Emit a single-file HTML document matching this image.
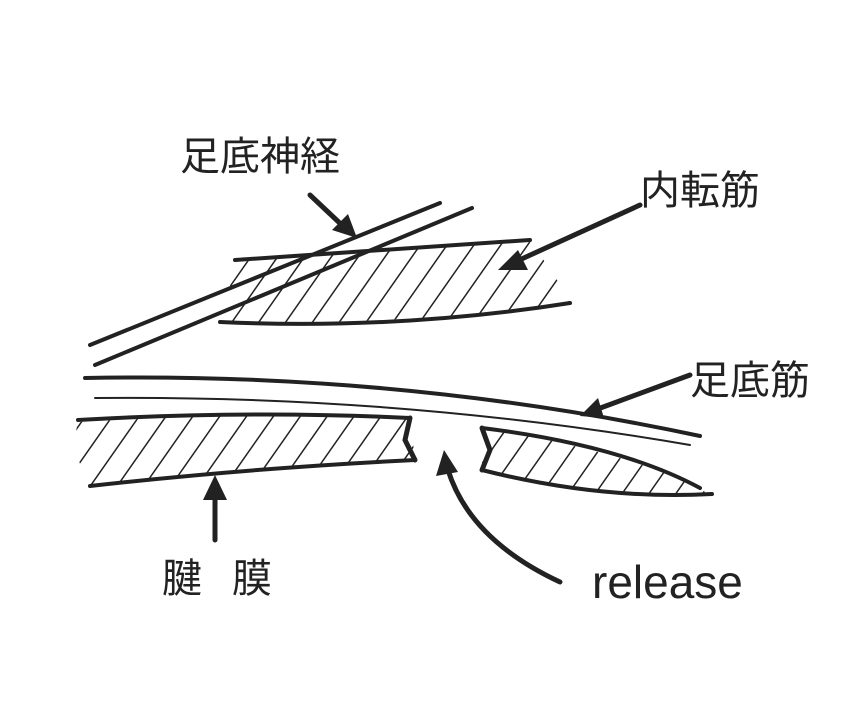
<!DOCTYPE html>
<html><head><meta charset="utf-8"><style>
html,body{margin:0;padding:0;background:#fff;}
svg{display:block}
text{font-family:"Liberation Sans","Noto Sans CJK JP",sans-serif;fill:#222}
</style></head><body>
<svg width="858" height="716" viewBox="0 0 858 716" xmlns="http://www.w3.org/2000/svg">
<defs>
<pattern id="h" width="22" height="22" patternUnits="userSpaceOnUse" patternTransform="rotate(35)">
<line x1="0" y1="0" x2="0" y2="22" stroke="#222" stroke-width="3"/>
</pattern>
<clipPath id="c1"><path d="M235,262 Q380,250 530,242 Q560,280 570,305 Q400,325 220,322 Q230,290 235,262Z"/></clipPath>
<clipPath id="c2"><path d="M78,422 Q250,412 410,418 L415,460 Q250,470 90,487 Q70,450 78,422Z"/></clipPath>
<clipPath id="c3"><path d="M482,428 Q620,450 700,488 L710,496 Q600,500 482,470Z"/></clipPath>
</defs>
<g stroke="#222" fill="none" stroke-linecap="round">
<rect x="200" y="240" width="380" height="90" fill="url(#h)" clip-path="url(#c1)" stroke="none"/>
<rect x="60" y="405" width="370" height="90" fill="url(#h)" clip-path="url(#c2)" stroke="none"/>
<rect x="470" y="420" width="250" height="85" fill="url(#h)" clip-path="url(#c3)" stroke="none"/>
<path d="M235,260 Q380,250 530,240" stroke-width="4"/>
<path d="M220,322 Q400,330 570,303" stroke-width="4"/>
<path d="M90,345 L440,203" stroke-width="4"/>
<path d="M95,365 L472,208" stroke-width="4"/>
<path d="M85,378 Q400,372 700,436" stroke-width="4"/>
<path d="M95,398 Q400,395 690,445" stroke-width="2"/>
<path d="M78,420 Q250,410 410,418" stroke-width="4"/>
<path d="M90,486 Q250,468 415,460" stroke-width="4"/>
<path d="M410,418 L405,440 L415,460" stroke-width="5"/>
<path d="M482,428 L490,450 L482,470" stroke-width="5"/>
<path d="M482,428 Q620,445 700,488" stroke-width="4"/>
<path d="M482,470 Q600,500 712,494" stroke-width="4"/>
<path d="M310,195 L345,228" stroke-width="5"/>
<path d="M640,205 L515,262" stroke-width="5"/>
<path d="M690,375 L595,410" stroke-width="5"/>
<path d="M215,540 L215,495" stroke-width="5"/>
<path d="M560,582 Q470,540 448,470" stroke-width="5"/>
</g>
<g fill="#222">
<polygon points="357,238 332,230 348,214"/>
<polygon points="498,270 518,250 528,270"/>
<polygon points="580,416 598,398 604,418"/>
<polygon points="215,475 203,500 227,500"/>
<polygon points="444,450 436,476 458,472"/>
</g>
<text x="180" y="170" font-size="40">足底神経</text>
<text x="640" y="204" font-size="40">内転筋</text>
<text x="690" y="394" font-size="40">足底筋</text>
<text x="162" y="592" font-size="40" letter-spacing="30">腱膜</text>
<text x="592" y="598" font-size="46">release</text>
</svg>
</body></html>
